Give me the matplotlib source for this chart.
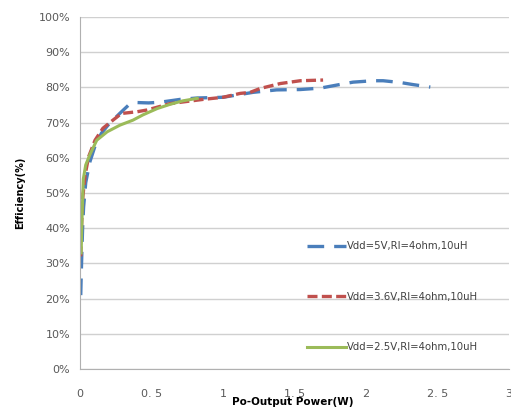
import numpy as np
import matplotlib.pyplot as plt
from matplotlib.ticker import PercentFormatter

# efficiency curves
p_5v = [0.005, 0.008, 0.012, 0.018, 0.025, 0.04, 0.07, 0.11, 0.15, 0.2, 0.28, 0.34, 0.40, 0.48, 0.56,
        0.70, 0.82, 1.0, 1.21, 1.375, 1.54, 1.68, 1.84, 1.91, 2.05, 2.12, 2.24, 2.33, 2.45]
eff_5v = [21, 26, 32, 40, 46, 53, 59, 64, 67, 69.5, 72.7, 75, 75.7, 75.6, 75.8,
          76.6, 77, 77.2, 78.6, 79.3, 79.4, 79.8, 81, 81.5, 81.9, 81.9, 81.4, 80.8, 80.1]

p_36v = [0.005, 0.01, 0.02, 0.035, 0.06, 0.105, 0.16, 0.23, 0.29, 0.40, 0.47, 0.63, 0.86, 1.0,
         1.12, 1.19, 1.26, 1.40, 1.54, 1.70]
eff_36v = [32, 40, 49, 55, 60.3, 65, 68.4, 70.7, 72.6, 73.1, 73.6, 75.4, 76.6, 77.2,
           78.3, 78.6, 79.7, 81.1, 81.9, 82.1]

p_25v = [0.008, 0.012, 0.018, 0.023, 0.04, 0.07, 0.117, 0.19, 0.28, 0.37, 0.44, 0.54, 0.63, 0.72, 0.82]
eff_25v = [33, 40, 48, 54, 58, 61, 65, 67.4, 69.3, 70.7, 72.2, 74, 75.2, 76.2, 76.9]

labels = ['Vdd=5V,Rl=4ohm,10uH', 'Vdd=3.6V,Rl=4ohm,10uH', 'Vdd=2.5V,Rl=4ohm,10uH']
xticks = [0, 0.5, 1, 1.5, 2, 2.5, 3]
xtick_labels = ['0', '0. 5', '1', '1. 5', '2', '2. 5', '3']

fig = plt.figure(figsize=(5.11, 4.11), dpi=100)
ax = fig.add_axes([0.1566, 0.102, 0.8394, 0.8566])

ax.plot(p_5v, eff_5v, color='#4a7ebb', lw=2.4, dashes=(5, 3), label=labels[0])
ax.plot(p_36v, eff_36v, color='#c0504d', lw=2.4, dashes=(3, 1.3), label=labels[1])
ax.plot(p_25v, eff_25v, color='#9bbb59', lw=2.2, label=labels[2])

ax.set_xlim(0, 3)
ax.set_ylim(0, 100)
ax.set_yticks(np.arange(0, 101, 10))
ax.yaxis.set_major_formatter(PercentFormatter(decimals=0))
ax.set_xticks(xticks)
ax.set_xticklabels(xtick_labels)
ax.grid(axis='y', color='#d0d0d0', lw=1)
ax.set_axisbelow(True)
for s in ['top', 'right']:
    ax.spines[s].set_visible(False)
for s in ['left', 'bottom']:
    ax.spines[s].set_color('#b0b0b0')
ax.tick_params(axis='y', length=0, labelsize=8, colors='#595959', pad=7)
ax.tick_params(axis='x', length=0, labelsize=8, colors='#595959', pad=14)

ax.set_xlabel('Po-Output Power(W)', fontsize=7.5, fontweight='bold')
ax.xaxis.set_label_coords(0.497, -0.08)
ax.set_ylabel('Efficiency(%)', fontsize=7, fontweight='bold', labelpad=10)

fig.legend(loc='upper left', bbox_to_anchor=(302 / 511, (411 - 236) / 411), frameon=False,
           fontsize=7.3, labelspacing=4.0, handlelength=3.8, handletextpad=0.1, borderpad=0,
           labelcolor='#404040')

fig.savefig('out.png', dpi=100)
